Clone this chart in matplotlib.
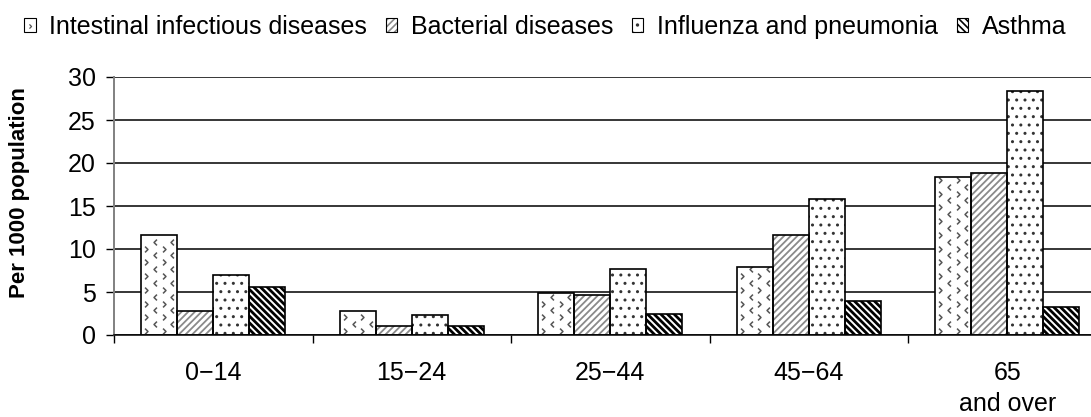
import matplotlib
matplotlib.use('Agg')
import matplotlib.pyplot as plt
import numpy as np
from matplotlib.path import Path
from matplotlib.patches import Patch
from matplotlib.lines import Line2D
from matplotlib.legend_handler import HandlerTuple

plt.rcParams['font.family'] = ['Liberation Sans', 'DejaVu Sans']
plt.rcParams['hatch.linewidth'] = 1.2

age_groups = ['0\u221214', '15\u221224', '25\u221244', '45\u221264', '65\nand over']
series = ['Intestinal infectious diseases', 'Bacterial diseases',
          'Influenza and pneumonia', 'Asthma']
intestinal = [11.6, 2.8, 4.9, 7.9, 18.4]
bacterial = [2.8, 1.1, 4.7, 11.6, 18.8]
influenza = [7.0, 2.3, 7.7, 15.8, 28.4]
asthma = [5.6, 1.1, 2.5, 4.0, 3.2]
values = [intestinal, bacterial, influenza, asthma]

# chevron markers used as the texture of the first series
chevron_r = Path([(-0.5, 1.0), (0.5, 0.0), (-0.5, -1.0)],
                 [Path.MOVETO, Path.LINETO, Path.LINETO])
chevron_l = Path([(0.5, 1.0), (-0.5, 0.0), (0.5, -1.0)],
                 [Path.MOVETO, Path.LINETO, Path.LINETO])

hatches = [None, '/////', '..', '\\\\\\\\\\']
hatch_colors = ['#555555', '#8a8a8a', '#333333', '#000000']
hatch_widths = [1.0, 1.3, 1.0, 2.0]

fig = plt.figure(figsize=(10.91, 4.17), dpi=100)
ax = fig.add_axes([114 / 1091, 82 / 417, 992.5 / 1091, 258 / 417])

x = np.arange(len(age_groups))
width = 0.181
offsets = (np.arange(4) - 1.5) * width

for k, vals in enumerate(values):
    xs = x + offsets[k]
    with plt.rc_context({'hatch.linewidth': hatch_widths[k]}):
        fills = ax.bar(xs, vals, width, facecolor='white',
                       edgecolor=hatch_colors[k], hatch=hatches[k],
                       linewidth=0, zorder=2)
    for p in fills:
        if hasattr(p, 'set_hatch_linewidth'):
            p.set_hatch_linewidth(hatch_widths[k])
    outlines = ax.bar(xs, vals, width, facecolor='none', edgecolor='black',
                      linewidth=1.2, zorder=4)
    if hatches[k] is None:
        # alternating rows of chevrons, clipped to each bar
        for bar, v in zip(outlines, vals):
            x0 = bar.get_x()
            cols = x0 + width * np.array([0.14, 0.38, 0.62, 0.86])
            rows = np.arange(0.45, v, 0.8)
            for i, yy in enumerate(rows):
                m = chevron_r if i % 2 == 0 else chevron_l
                for j, xx in enumerate(cols):
                    if (i + j) % 2:
                        continue
                    ln, = ax.plot([xx], [yy], linestyle='none', marker=m,
                                  markersize=4.2, markeredgewidth=1.1,
                                  color=hatch_colors[k], fillstyle='none',
                                  zorder=3)
                    ln.set_clip_path(bar)

ax.set_xlim(-0.5, 4.5)
ax.set_ylim(0, 30)
ax.set_yticks(np.arange(0, 31, 5))
ax.yaxis.grid(True, color='black', linewidth=1.1)
ax.set_axisbelow(True)

for side in ['top', 'right']:
    ax.spines[side].set_visible(False)
ax.spines['left'].set_color('#808080')
ax.spines['left'].set_linewidth(1.4)
ax.spines['bottom'].set_color('black')
ax.spines['bottom'].set_linewidth(1.1)

ax.set_xticks(x)
ax.set_xticklabels(age_groups, fontsize=18, linespacing=1.35)
ax.set_xticks(np.arange(-0.5, 4.6, 1.0), minor=True)
ax.tick_params(axis='x', which='major', length=0, pad=19)
ax.tick_params(axis='x', which='minor', length=6, width=1.0, color='black')
ax.tick_params(axis='y', length=6, width=1.0, color='black', labelsize=18, pad=7)

fig.text(20 / 1091, 1 - 193 / 417, 'Per 1000 population', rotation=90,
         ha='center', va='center', fontsize=16, fontweight='bold')

handles = []
for k in range(4):
    back = Patch(facecolor='white', edgecolor=hatch_colors[k],
                 hatch=hatches[k], linewidth=0)
    edge = Patch(facecolor='none', edgecolor='black', linewidth=0.8)
    if hatches[k] is None:
        mark = Line2D([], [], linestyle='none', marker=chevron_r, markersize=3,
                      markeredgewidth=0.9, color=hatch_colors[k],
                      fillstyle='none')
        handles.append((back, mark, edge))
    else:
        handles.append((back, edge))

fig.legend(handles, series, loc='center', bbox_to_anchor=(0.5, 1 - 27 / 417),
           ncol=4, frameon=False, fontsize=18, handlelength=0.45,
           handleheight=0.45, handletextpad=0.55, columnspacing=0.75,
           borderpad=0, numpoints=1,
           handler_map={tuple: HandlerTuple(ndivide=1, pad=0)})

fig.savefig('out.png', dpi=100)
